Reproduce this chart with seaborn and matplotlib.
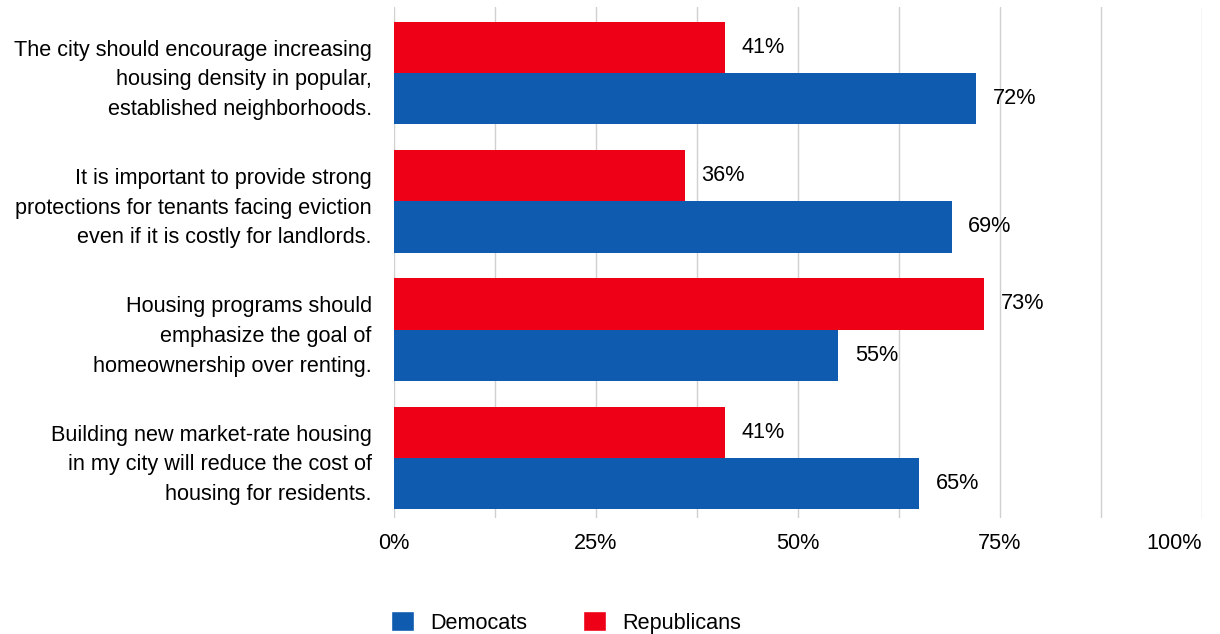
import pandas as pd
import seaborn as sns
import matplotlib.pyplot as plt
from matplotlib.patches import Patch
from matplotlib.ticker import MultipleLocator, FixedLocator

# Datos
afirmaciones = [
    "The city should encourage increasing\nhousing density in popular,\nestablished neighborhoods.",
    "It is important to provide strong\nprotections for tenants facing eviction\neven if it is costly for landlords.",
    "Housing programs should\nemphasize the goal of\nhomeownership over renting.",
    "Building new market-rate housing\nin my city will reduce the cost of\nhousing for residents.",
]
democratas = [72, 69, 55, 65]
republicanos = [41, 36, 73, 41]
grupos = ["Republicans", "Democats"]
colores = {"Democats": "#0E5BB0", "Republicans": "#EE0016"}
ticks_x = [0, 25, 50, 75, 100]

df = pd.DataFrame({
    "afirmacion": afirmaciones * 2,
    "valor": republicanos + democratas,
    "grupo": ["Republicans"] * 4 + ["Democats"] * 4,
})

sns.set_style("white")
plt.rcParams["font.family"] = ["Liberation Sans", "DejaVu Sans"]
plt.rcParams["text.color"] = "black"
plt.rcParams["xtick.color"] = "black"
plt.rcParams["ytick.color"] = "black"

fs = 15.6
fig = plt.figure(figsize=(12.2, 6.34), dpi=100)
ax = fig.add_axes([394 / 1220, 1 - 518 / 634, (1202 - 394) / 1220, (518 - 7) / 634])

sns.barplot(data=df, x="valor", y="afirmacion", hue="grupo", hue_order=grupos,
            palette=colores, width=0.8, saturation=1, linewidth=0, ax=ax, legend=False, zorder=3)

ax.set_xlim(0, 100)
ax.xaxis.set_major_locator(FixedLocator(ticks_x))
ax.xaxis.set_minor_locator(MultipleLocator(12.5))
ax.set_xticklabels([f"{t}%" for t in ticks_x], fontsize=fs)
ax.get_xticklabels()[-1].set_horizontalalignment("right")
ax.grid(axis="x", which="both", color="#D0D0D0", linewidth=1, zorder=0)
ax.tick_params(axis="x", which="both", length=0, pad=11)
ax.tick_params(axis="y", length=0, pad=16, labelsize=fs)
for lbl in ax.get_yticklabels():
    lbl.set_horizontalalignment("right")
    lbl.set_linespacing(1.55)
ax.set_xlabel("")
ax.set_ylabel("")
for s in ax.spines.values():
    s.set_visible(False)
ax.set_ylim(3.468, -0.514)

# Etiquetas de valores
for cont in ax.containers:
    ax.bar_label(cont, labels=[f"{v:.0f}%" for v in cont.datavalues], padding=12, fontsize=fs)

handles = [Patch(facecolor=colores["Democats"], label="Democats"),
           Patch(facecolor=colores["Republicans"], label="Republicans")]
fig.legend(handles=handles, loc="lower center", bbox_to_anchor=(0.464, -0.03), ncol=2,
           frameon=False, fontsize=fs, handlelength=1.05, handleheight=1.05, columnspacing=2.6,
           handletextpad=0.75)

plt.savefig("out.png", dpi=100)
